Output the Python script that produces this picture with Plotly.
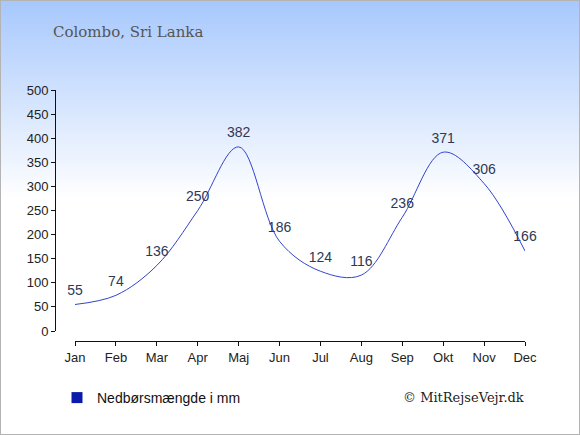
import plotly.graph_objects as go

# Colombo monthly rainfall (mm)
months = ['Jan', 'Feb', 'Mar', 'Apr', 'Maj', 'Jun', 'Jul', 'Aug', 'Sep', 'Okt', 'Nov', 'Dec']
rain = [55, 74, 136, 250, 382, 186, 124, 116, 236, 371, 306, 166]
y_ticks = [0, 50, 100, 150, 200, 250, 300, 350, 400, 450, 500]

W, H = 580, 435

fig = go.Figure()

# gradient background: light blue at top fading to white
n_bands = 100
top_col = (167, 200, 253)
grad_h = 200
for i in range(n_bands):
    t = i / (n_bands - 1)
    c = tuple(int(round(a + (255 - a) * t)) for a in top_col)
    y1 = 1 - (i * grad_h / n_bands) / H
    y0 = 1 - ((i + 1) * grad_h / n_bands) / H - 0.001
    fig.add_shape(type='rect', xref='paper', yref='paper', x0=0, x1=1, y0=y0, y1=y1,
                  fillcolor='rgb(%d,%d,%d)' % c, line_width=0, layer='below')
fig.add_shape(type='rect', xref='paper', yref='paper', x0=0, x1=1, y0=0, y1=1,
              line=dict(color='#b4b4b4', width=2), layer='above')

# invisible markers push the value labels a bit higher above the line
fig.add_trace(go.Scatter(
    x=list(range(len(months))), y=rain, mode='lines+markers+text',
    line=dict(color='#3344cc', width=1, shape='spline', smoothing=1),
    marker=dict(size=8, opacity=0),
    text=[str(v) for v in rain], textposition='top center', cliponaxis=False,
    textfont=dict(family='Liberation Sans, Arial', size=14, color='#2e3856'),
    showlegend=False, hoverinfo='skip'))

fig.add_trace(go.Scatter(
    x=[None], y=[None], mode='markers', name='Nedbørsmængde i mm',
    marker=dict(symbol='square', size=11, color='#0a1aaa')))

fig.update_layout(
    width=W, height=H,
    margin=dict(l=0, r=0, t=0, b=0, autoexpand=False),
    paper_bgcolor='white', plot_bgcolor='rgba(0,0,0,0)',
    font=dict(family='Liberation Sans, Arial', size=13, color='#222'),
    xaxis=dict(domain=[75 / W, 525 / W], range=[0, 11], anchor='free', position=(H - 341) / H,
               tickvals=list(range(len(months))), ticktext=months,
               showline=True, linecolor='#111', linewidth=1, ticks='outside', ticklen=4,
               tickcolor='#111', showgrid=False, zeroline=False, fixedrange=True),
    yaxis=dict(domain=[(H - 331) / H, (H - 90) / H], range=[0, 500], anchor='free', position=55 / W,
               tickvals=y_ticks, showline=True, linecolor='#111', linewidth=1, ticks='outside',
               ticklen=4, tickcolor='#111', showgrid=False, zeroline=False, fixedrange=True),
    showlegend=True,
    legend=dict(x=57 / W, y=(H - 398) / H, xanchor='left', yanchor='middle',
                bgcolor='rgba(0,0,0,0)', font=dict(size=14, color='#111'),
                itemwidth=30),
    annotations=[
        dict(text='Colombo, Sri Lanka', xref='paper', yref='paper', x=51 / W, y=(H - 32) / H,
             xanchor='left', yanchor='middle', showarrow=False,
             font=dict(family='Georgia, DejaVu Serif, serif', size=15, color='#555')),
        dict(text='© MitRejseVejr.dk', xref='paper', yref='paper', x=526 / W, y=(H - 397) / H,
             xanchor='right', yanchor='middle', showarrow=False,
             font=dict(family='Georgia, DejaVu Serif, serif', size=13, color='#222')),
    ],
)

fig.write_html('out.html', post_script="document.body.style.margin='0';",
               config={'displayModeBar': False})
